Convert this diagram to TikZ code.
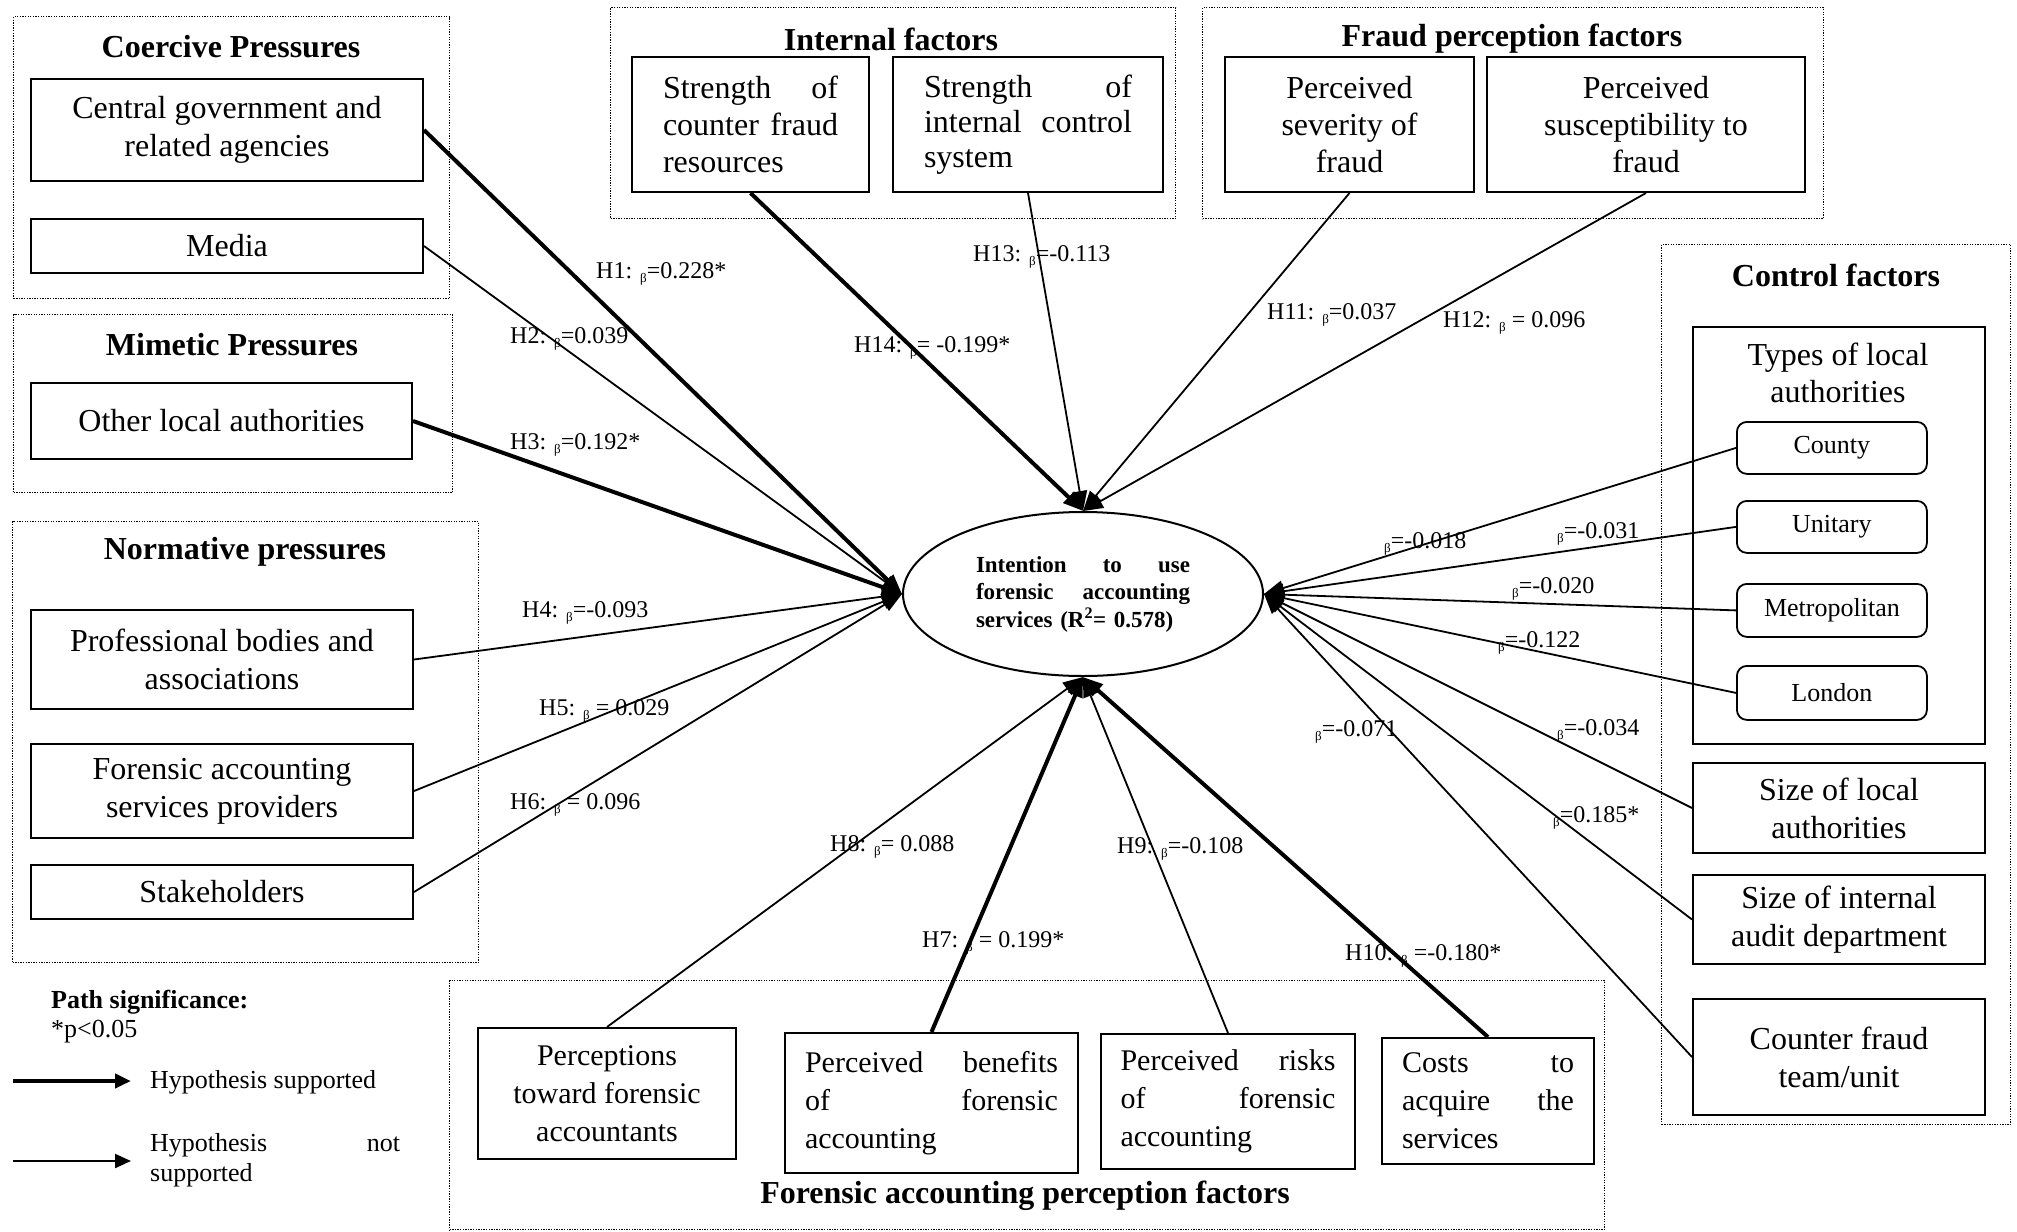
\documentclass[tikz,border=0pt]{standalone}
\usepackage{fontspec}
\setmainfont{Liberation Serif}
\usetikzlibrary{arrows.meta,shapes.geometric}
\newcommand\fsz[2]{\fontsize{#1}{#2}\selectfont}
\newcommand\bsub{\raisebox{-4pt}{\fontsize{13}{13}\selectfont β}}
\begin{document}
\begin{tikzpicture}[x=1pt,y=-1pt,
  grp/.style={draw, dash pattern=on 1.3pt off 1.3pt, line width=1.3pt, inner sep=0pt, anchor=north west},
  box/.style={draw, line width=2pt, inner sep=0pt, anchor=north west, font=\fsz{32}{38}, align=center},
  bbox/.style={box, font=\fsz{30}{38}},
  rbox/.style={draw, line width=1.8pt, rounded corners=10pt, inner sep=0pt, anchor=north west, minimum width=190pt, font=\fsz{26}{30}},
  ttl/.style={font=\bfseries\fsz{32}{38}, inner sep=0pt},
  lbl/.style={font=\fsz{24}{28}, inner sep=0pt, anchor=west},
  arr/.style={line width=1.8pt, -{Triangle[length=20pt,width=15pt]}},
  thk/.style={arr, line width=4pt},
  legtxt/.style={font=\fsz{26}{30}, inner sep=0pt, anchor=west}
]
\useasboundingbox (0,0) rectangle (2017,1231);

% ---------- group frames ----------
\node[grp, minimum width=436pt, minimum height=282pt] (gcoer) at (13,16) {};
\node[grp, minimum width=439pt, minimum height=178pt] (gmim) at (13,314) {};
\node[grp, minimum width=466pt, minimum height=441pt] (gnorm) at (12,521) {};
\node[grp, minimum width=565pt, minimum height=211pt] (gint) at (610,7) {};
\node[grp, minimum width=621pt, minimum height=211pt] (gfraud) at (1202,7) {};
\node[grp, minimum width=349pt, minimum height=880pt] (gctrl) at (1661,244) {};
\node[grp, minimum width=1155pt, minimum height=249pt] (gfor) at (449,980) {};

% ---------- titles ----------
\node[ttl] (tcoer) at (231,47) {Coercive Pressures};
\node[ttl] (tmim) at (232,345) {Mimetic Pressures};
\node[ttl] (tnorm) at (245,552) {Normative pressures};
\node[ttl] (tint) at (891,39) {Internal factors};
\node[ttl] (tfraud) at (1512,39) {Fraud perception factors};
\node[ttl] (tctrl) at (1836,275) {Control factors};
\node[ttl] (tfor) at (1025,1196) {Forensic accounting perception factors};

% ---------- left boxes ----------
\node[box, minimum width=392pt, minimum height=102pt] (cg) at (30,78) {Central government and\\related agencies};
\node[box, minimum width=392pt, minimum height=54pt] (media) at (30,218) {Media};
\node[box, minimum width=381pt, minimum height=76pt] (ola) at (30,382) {Other local authorities};
\node[box, minimum width=382pt, minimum height=99pt] (prof) at (30,609) {Professional bodies and\\associations};
\node[box, minimum width=382pt, minimum height=94pt] (fasp) at (30,743) {Forensic accounting\\services providers};
\node[box, minimum width=382pt, minimum height=54pt] (stake) at (30,864) {Stakeholders};

% ---------- top boxes ----------
\node[box, font=\fsz{32}{37}, minimum width=237pt, minimum height=135pt, text width=175pt, align=left] (scf) at (631,56) {Strength\hfill of\\counter\hfill fraud\\resources};
\node[box, font=\fsz{32}{35}, minimum width=270pt, minimum height=135pt, text width=208pt, align=left] (sic) at (892,56) {Strength\hfill of\\internal\hfill control\\system};
\node[box, font=\fsz{32}{37}, minimum width=249pt, minimum height=135pt] (psev) at (1224,56) {Perceived\\severity of\\fraud};
\node[box, font=\fsz{32}{37}, minimum width=318pt, minimum height=135pt] (psus) at (1486,56) {Perceived\\susceptibility to\\fraud};

% ---------- control boxes ----------
\node[box, minimum width=292pt, minimum height=417pt] (types) at (1692,326) {};
\node[font=\fsz{32}{37}, align=center, inner sep=0pt] (ttypes) at (1838,373) {Types of local\\authorities};
\node[rbox, minimum height=52pt] (county) at (1736,421) {County};
\node[rbox, minimum height=52pt] (unit) at (1736,500) {Unitary};
\node[rbox, minimum height=53pt] (metro) at (1736,583) {Metropolitan};
\node[rbox, minimum height=54pt] (london) at (1736,665) {London};
\node[box, minimum width=292pt, minimum height=90pt] (sla) at (1692,762) {Size of local\\authorities};
\node[box, minimum width=292pt, minimum height=89pt] (sia) at (1692,874) {Size of internal\\audit department};
\node[box, minimum width=292pt, minimum height=116pt] (cft) at (1692,998) {Counter fraud\\team/unit};

% ---------- bottom boxes ----------
\node[bbox, minimum width=258pt, minimum height=131pt] (pfa) at (477,1027) {Perceptions\\toward forensic\\accountants};
\node[bbox, minimum width=293pt, minimum height=140pt, text width=253pt, align=left] (pbf) at (784,1032) {Perceived\hfill benefits\\of\hfill forensic\\accounting};
\node[bbox, minimum width=254pt, minimum height=135pt, text width=215pt, align=left] (prf) at (1100,1033) {Perceived\hfill risks\\of\hfill forensic\\accounting};
\node[bbox, minimum width=212pt, minimum height=126pt, text width=172pt, align=left] (cas) at (1381,1037) {Costs\hfill to\\acquire\hfill the\\services};

% ---------- central ellipse ----------
\node[ellipse, draw, line width=2pt, minimum width=360pt, minimum height=164pt, inner sep=0pt,
      font=\bfseries\fsz{23}{27.5}, text width=214pt, align=left] (ell) at (1083,594)
      {Intention\hfill to\hfill use\\forensic\hfill accounting\\services (R\textsuperscript{2}= 0.578)};

% ---------- connectors ----------
\draw[thk] (cg.east) -- (ell.west);
\draw[arr] (media.east) -- (ell.west);
\draw[thk] (ola.east) -- (ell.west);
\draw[arr] (prof.east) -- (ell.west);
\draw[arr] (fasp.east) -- (ell.west);
\draw[arr] (stake.east) -- (ell.west);

\draw[thk] (scf.south) -- (ell.north);
\draw[arr] (sic.south) -- (ell.north);
\draw[arr] (psev.south) -- (ell.north);
\draw[arr] (psus.south) -- (ell.north);

\draw[arr] (pfa.north) -- (ell.south);
\draw[thk] (pbf.north) -- (ell.south);
\draw[arr] (prf.north) -- (ell.south);
\draw[thk] (cas.north) -- (ell.south);

\draw[arr] (county.west) -- (ell.east);
\draw[arr] (unit.west) -- (ell.east);
\draw[arr] (metro.west) -- (ell.east);
\draw[arr] (london.west) -- (ell.east);
\draw[arr] (sla.west) -- (ell.east);
\draw[arr] (sia.west) -- (ell.east);
\draw[arr] (cft.west) -- (ell.east);

% ---------- path labels ----------
\node[lbl] (h1) at (596,274) {H1: \bsub=0.228*};
\node[lbl] (h2) at (510,339) {H2: \bsub=0.039};
\node[lbl] (h3) at (510,445) {H3: \bsub=0.192*};
\node[lbl] (h4) at (522,613) {H4: \bsub=-0.093};
\node[lbl] (h5) at (539,711) {H5: \bsub\ = 0.029};
\node[lbl] (h6) at (510,805) {H6: \bsub\ = 0.096};
\node[lbl] (h8) at (830,847) {H8: \bsub= 0.088};
\node[lbl] (h7) at (922,943) {H7: \bsub\ = 0.199*};
\node[lbl] (h9) at (1117,849) {H9: \bsub=-0.108};
\node[lbl] (h10) at (1345,956) {H10: \bsub\ =-0.180*};
\node[lbl] (h11) at (1267,315) {H11: \bsub=0.037};
\node[lbl] (h12) at (1443,323) {H12: \bsub\ = 0.096};
\node[lbl] (h13) at (973,257) {H13: \bsub=-0.113};
\node[lbl] (h14) at (854,348) {H14: \bsub= -0.199*};
\node[lbl] (c1) at (1384,544) {\bsub=-0.018};
\node[lbl] (c2) at (1557,534) {\bsub=-0.031};
\node[lbl] (c3) at (1512,589) {\bsub=-0.020};
\node[lbl] (c4) at (1498,643) {\bsub=-0.122};
\node[lbl] (c5) at (1557,731) {\bsub=-0.034};
\node[lbl] (c6) at (1553,818) {\bsub=0.185*};
\node[lbl] (c7) at (1315,732) {\bsub=-0.071};

% ---------- legend ----------
\node[legtxt, font=\bfseries\fsz{26}{30}] (psig) at (51,1002) {Path significance:};
\node[legtxt] (pval) at (51,1032) {*p<0.05};
\coordinate (l1a) at (13,1081);
\coordinate (l1b) at (131,1081);
\coordinate (l2a) at (13,1161);
\coordinate (l2b) at (131,1161);
\draw[line width=4pt, -{Triangle[length=16pt,width=14pt]}] (l1a) -- (l1b);
\draw[line width=2.2pt, -{Triangle[length=16pt,width=14pt]}] (l2a) -- (l2b);
\node[legtxt] (hs) at (150,1082) {Hypothesis supported};
\node[legtxt, text width=250pt, align=left] (hns) at (150,1160) {Hypothesis\hfill not\\supported};
\end{tikzpicture}
\end{document}
